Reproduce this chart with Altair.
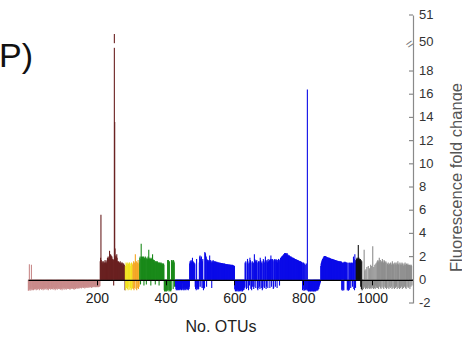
import altair as alt
import pandas as pd

# ---------------- data ----------------
group_names = ["pink", "maroon", "yellow", "orange", "green", "blue", "black", "gray"]
group_colors = ["#c98b8b", "#6a2121", "#f3e21e", "#f5a623", "#1a8a1a", "#0b0be8", "#111111", "#8e8e8e"]
group_start = [1, 210, 283, 305, 325, 429, 954, 973]

pink = [
    -0.95, -0.9, -0.8, 1.35, -0.85, -0.95, -0.7, -0.8, -0.9, 1.3,
    -0.8, -0.9, -0.6, -0.85, -0.7, -0.9, -0.75, -0.5, -0.8, -0.85,
    -0.7, -0.8, -0.6, -0.9, -0.75, -0.65, -0.8, -0.85, -0.5, -0.7,
    -0.8, -0.75, -0.9, -0.6, -0.7, -0.8, -0.45, -0.75, -0.85, -0.7,
    -0.6, -0.8, -0.7, -0.9, -0.75, -0.55, -0.8, -0.7, -0.85, -0.65,
    -0.75, -0.8, -0.5, -0.7, -0.85, -0.6, -0.8, -0.75, -0.9, -0.7,
    -0.65, -0.8, -0.7, -0.4, -0.75, -0.85, -0.7, -0.8, -0.6, -0.75,
    -0.8, -0.7, -0.85, -0.65, -0.75, -0.5, -0.8, -0.7, -0.9, -0.75,
    -0.6, -0.8, -0.7, -0.75, -0.85, -0.55, -0.7, -0.8, -0.65, -0.75,
    -0.8, -0.4, -0.7, -0.85, -0.75, -0.6, -0.8, -0.7, -0.9, -0.65,
    -0.75, -0.8, -0.6, -0.7, -0.85, -0.7, -0.5, -0.8, -0.75, -0.7,
    -0.85, -0.6, -0.75, -0.8, -0.7, -0.45, -0.8, -0.75, -0.65, -0.8,
    -0.7, -0.85, -0.6, -0.75, -0.8, -0.7, -0.55, -0.8, -0.7, -0.75,
    -0.65, -0.8, -0.7, -0.85, -0.6, -0.75, -0.7, -0.8, -0.5, -0.7,
    -0.75, -0.6, -0.7, -0.65, -0.8, -0.55, -0.7, -0.6, -0.75, -0.65,
    -0.6, -0.7, -0.5, -0.65, -0.75, -0.6, -0.7, -0.4, -0.65, -0.6,
    -0.7, -0.55, -0.65, -0.6, -0.75, -0.5, -0.6, -0.7, -0.55, -0.65,
    -0.6, -0.7, -0.5, -0.65, -0.55, -0.6, -0.7, -0.45, -0.6, -0.65,
    -0.55, -0.65, -0.6, -0.5, -0.7, -0.6, -0.55, -0.65, -0.6, -0.5,
    -0.6, -0.65, -0.55, -0.6, -0.5, -0.65, -0.6, -0.55, -0.6, -0.65,
    -0.55, -0.6, -0.5, -0.65, -0.6, -0.55, -0.6, -0.5, -0.55,
]

maroon = [
    1.6, 1.9, 5.6, 1.7, 1.5, 1.4, 1.6, 1.3, 1.5, 1.4,
    1.6, 1.3, 1.5, 1.4, 1.7, 1.5, 1.3, 1.6, 1.4, 1.5,
    1.7, 1.9, 1.8, 2.0, 1.8, 1.9, 1.7, 2.5, 2.1, 2.0,
    2.2, 2.0, 2.1, 1.9, 2.0, 1.7, 1.8, 1.6, 1.7, -0.5,
    1.8, 50.3, 13.6, 2.7, 1.9, 2.1, 1.8, 2.0, 2.2, 1.9,
    1.6, 1.5, 1.4, 1.6, 1.5, 1.3, 1.5, 1.4, 1.6, 1.4,
    1.3, 1.5, 1.4, 1.3, 1.5, 1.2, 1.4, 1.3, 1.4, 1.2,
    1.3, 1.2, -0.9,
]

yellow = [1.2, -0.9, 1.5, -0.7, 1.4, 1.3, -0.8, 1.5, -0.9, 1.4, -0.6,
          1.3, 1.5, -0.85, 1.4, -0.7, 1.2, -0.9, 1.5, -0.8, 1.3, -0.7]

orange = [1.4, -0.8, 1.6, -0.9, 1.5, -0.7, 1.4, 2.2, 1.5, -0.8,
          1.6, -0.9, 1.3, 1.5, -0.7, 1.7, -0.8, 1.4, -0.6, 1.5]

green = [
    1.9, 2.0, -0.4, 1.8, 3.1, 2.0, 1.9, 1.8, 2.0, 1.9,
    1.8, 2.0, -0.5, 1.9, 1.8, 1.9, 2.0, 1.7, 1.9, -0.4,
    1.8, 1.9, 1.7, 1.8, 2.0, 1.8, 2.6, 1.9, 1.8, 1.7,
    1.9, 1.8, -0.5, 1.7, 1.8, 1.9, 1.7, 2.2, 1.8, 1.6,
    1.7, 1.6, 1.7, 1.5, 1.6, -0.4, 1.6, 1.5, 1.6, 1.5,
    1.5, 1.6, 1.4, 1.5, 1.5, 1.4, -0.5, 1.5, 1.4, 1.5,
    1.4, 1.4, 1.5, 1.3, 1.4, 1.4, 1.3, 1.4, 1.3, 1.4,
    1.3, -0.9, -1.0, -0.9, -0.95, -1.0, -0.9, -0.85, -1.0, -0.9,
    -0.95, 1.7, 1.6, 1.7, -0.9, -1.0, 1.6, -0.9, -0.95, -0.9,
    -1.0, -0.9, 1.7, 1.6, 1.7, 1.5, 1.6, -0.8, 1.7, 1.6,
    1.5, -0.6, -0.5, -0.4,
]

blue = [
    -0.6, -0.8, -0.9, -0.7, -0.85, -0.9, -0.75, -0.8, -0.9, -0.7, -0.85, -0.8,
    -0.9, -0.7, -0.8, -0.85, -0.6, -0.9, -0.8, -0.75, -0.3, -0.85,
    -0.9, -0.7, -0.8, -0.9, -0.65, -0.8, -0.85, -0.7, -0.9, -0.8,
    -0.75, -0.6, -0.85, -0.8, -0.7, -0.9, -0.75, -0.8, -0.6,
    1.4, 1.6, 1.5, 1.6, 1.7, 1.5, 1.6, 1.4, 1.9, 1.5, 1.6, 1.5, 1.4, 1.5, 1.3, 1.4,
    -0.6, -0.8, -0.7, -0.9, 1.8, -0.7, -0.8, -0.6, -0.85, -0.7, -0.8, -0.6,
    1.5, 2.0, 2.1, 1.8, -0.6, 1.9, 2.0, 1.7, -0.7, 1.6, 1.8,
    -0.7, -0.9, -0.8, -0.6, -0.7,
    2.4, 2.3, 2.2, 1.9, 2.0, -0.6, 1.8, 1.7,
    1.6, 1.7, 1.5, 1.6, 1.7, 1.6, 2.1, 1.6, 1.5, 1.7, 1.6, 1.5, -0.7, 1.6, 1.5, 1.6, 1.7, 1.5, 1.6,
    1.6, 1.55, 1.55, 1.6, 1.55, 1.5, 1.55, 1.5, 1.55, 1.5,
    1.5, 1.5, 1.45, 1.5, 1.5, 1.45, 1.45, 1.5, 1.45, 1.45,
    1.4, 1.45, 1.4, 1.45, 1.4, 1.4, 1.4, 1.35, 1.4, 1.4,
    1.35, 1.4, 1.35, 1.35, 1.35, 1.3, 1.35, 1.35, 1.3, 1.35,
    1.3, 1.3, 1.3, 1.35, 1.3, 1.3, 1.25, 1.3, 1.3, 1.25,
    1.3, 1.25, 1.25, 1.3, 1.25, 1.25, 1.2, 1.25, 1.2, 1.2,
    -0.8, -0.9, -1.0, -0.9, -0.85, -0.95, -1.0, -0.9, -0.8, -0.95,
    -1.0, -0.9, -0.85, -1.0, -0.95, -0.9, -0.8, -0.95, -1.0, -0.9,
    -0.85, -0.9, -1.0, -0.95, -0.8, -0.9, -0.7, -0.85, -0.6, -0.7,
    1.5, 1.4, 1.6, -0.6, -0.8, -0.7, 1.5, 1.8, 1.6, -0.7,
    -0.9, 1.4, 1.5, -0.5, 1.9, 1.7, 1.6, -0.8, -0.7, -0.9,
    1.5, 1.6, -0.6, 1.4, 1.5, -0.8, -0.6, 2.2, 1.8, 1.7,
    1.6, -0.7, 1.5, 1.6, 1.7, 1.5, -0.8, -0.9, -0.7, 1.6,
    1.5, 1.6, -0.6, -0.8, 1.9, 1.7, 1.6, -0.7, 1.5, 1.4,
    -0.9, -0.8, 1.6, 1.8, 1.7, -0.6, -0.7, 1.5, 1.6, 2.0,
    1.7, -0.8, -0.6, 1.6, 1.7, 1.5, -0.7, 1.8, 1.6, 1.5,
    1.6, 1.7, -0.7, 1.8, 1.7, 2.1, 1.8, -0.6, 1.7, 1.6,
    1.8, 1.7, -0.8, -0.7, 1.6, 1.7, 1.8, 1.6, -0.6, 1.7,
    1.8, 1.6, 1.7, -0.7, 1.5, 1.7, 1.6, 1.8, 1.7, 1.6,
    -0.5, 1.7, 1.8, 1.9, 1.8, 1.9, 2.0, 1.9, 2.0, 2.1,
    2.0, 2.1, 2.2, 2.1, 2.2,
    2.3, 2.2, 2.3, 2.2, 2.3, 2.2, 2.2, 2.3, 2.1, 2.2, 2.1,
    2.1, 2.1, 2.0, 2.1, 2.0, 2.0, 2.0, 1.95, 2.0, 1.9,
    1.95, 1.9, 1.9, 1.85, 1.9, 1.85, 1.8, 1.85, 1.8, 1.8,
    1.75, 1.8, 1.75, 1.7, 1.75, 1.7, 1.7, 1.65, 1.7, 1.65,
    1.6, 1.65, 1.6, 1.6, 1.55, 1.6, 1.55, 1.5, 1.55, 1.5,
    1.5, -0.9, 1.4, -0.8, 1.5, -0.95, -0.9, 1.4, -0.9, 1.3, -0.85, -0.9, 1.4, -0.8, -0.9,
    16.4,
    -0.9, -0.95, -1.0, -0.9, -1.0, -0.95, -0.9, -1.0, -0.95, -1.0,
    -0.9, -0.95, -1.0, -0.9, -0.95, -1.0, -0.9, -1.0, -0.95, -0.9,
    -1.0, -0.95, -0.9, -1.0, -0.95, -0.9, -0.85, -0.95, -0.9, -0.8,
    -0.9, -0.7, -0.8, -0.6, -0.5, -0.4, -0.3, -0.2,
    1.2, 1.4, 1.5, 1.6, 1.7, 1.8, 1.8, 1.9, 1.9, 2.0, 2.0, 2.05, 2.0, 2.05, 2.0, 1.95,
    2.0, 1.95, 1.95, 1.9, 1.95, 1.9, 1.9, 1.9, 1.85, 1.9,
    1.85, 1.85, 1.8, 1.85, 1.8, 1.8, 1.8, 1.75, 1.8, 1.75,
    1.75, 1.75, 1.7, 1.75, 1.7, 1.7, 1.7, 1.65, 1.7, 1.65,
    1.65, 1.65, 1.6, 1.65, 1.6, 1.6, 1.6, 1.6, 1.55, 1.6,
    1.55, 1.55, 1.6, 1.55,
    1.55, -0.9, -0.8, 1.5, -0.95, -0.85, 1.5, -0.9, 1.55, 1.5,
    1.5, 1.55, 1.5, 1.45, 1.5, 1.5, 1.45, -0.9, -0.8, 1.5,
    -0.95, -0.9, 1.45, -0.85, 1.5, 1.45, 1.4, -0.7, 1.5, 1.45,
    1.4, 1.5, -0.6, 1.45, 1.4,
    2.0, -0.8, 1.8, -0.9, 2.2, 1.6, -0.7, 1.7,
]

black = [1.7, 1.8, 1.9, 1.8, 1.7, 1.9, 3.0, 1.8, 1.9, 1.7,
         1.8, 1.6, 1.8, -0.6, 1.7, -0.8, 1.6, -0.9, -0.7]

gray = [
    -0.7, -0.6, -0.8, -0.7, 2.6, -0.6, 0.8, -0.7, -0.8, 0.9,
    -0.6, -0.7, 1.1, -0.8, -0.6, -0.7, 1.2, -0.5, -0.7, -0.8,
    1.0, -0.6, -0.7, 1.3, -0.8, -0.6, 1.2, -0.7, -0.5, 2.9,
    -0.7, -0.8, 1.1, -0.6, -0.7, 1.3, -0.8, -0.5, 1.4, -0.7,
    -0.6, 1.5, 1.6, -0.7, 1.7, 1.6, -0.8, 1.5, 1.9, -0.6,
    1.6, 1.7, -0.7, -0.8, 1.5, 1.6, -0.6, 1.8, 1.6, -0.7,
    1.5, -0.8, 1.7, 1.6, -0.6, 1.5, -0.7, 1.6, 1.5, -0.8,
    -0.6, 1.3, 1.4, -0.7, 1.5, 1.3, -0.8, -0.6, 1.4, 1.3,
    -0.7, 1.5, 1.4, -0.6, 1.3, -0.8, 1.6, 1.4, -0.7, 1.3,
    1.4, -0.6, -0.8, 1.5, 1.3, -0.7, 1.4, 1.5, -0.6, 1.3,
    -0.8, 1.4, 1.6, -0.7, 1.3, 1.4, -0.6, -0.8, 1.5, 1.3,
    -0.7, 1.4, 1.3, -0.6, 1.5, -0.8, 1.4, 1.3, -0.7, 1.2,
    1.4, -0.6, 1.3, 1.5, -0.7, 1.3, -0.8, 1.4, 1.2, -0.6,
    1.3, 1.4, -0.7, 1.3, -0.6, 1.2, 1.3, -0.8, 1.3, 1.2,
    -0.6, 1.3, 1.2, -0.5,
]

values_by_group = [pink, maroon, yellow, orange, green, blue, black, gray]

# axis ticks / labels
x_ticks = [200, 400, 600, 800, 1000]
y_tick_labels = ["-2", "0", "2", "4", "6", "8", "10", "12", "14", "16", "18", "50", "51"]
y_tick_real = [-2, 0, 2, 4, 6, 8, 10, 12, 14, 16, 18, 50, 51]

# scale break: real values above BREAK_LOW are drawn compressed above it
BREAK_LOW, BREAK_HIGH = 18, 50
BREAK_BASE, BREAK_FACTOR = 20.5, 2.33


def to_display(v):
    return v if v <= BREAK_LOW else BREAK_BASE + (v - BREAK_HIGH) * BREAK_FACTOR


rows = []
for name, start, vals in zip(group_names, group_start, values_by_group):
    for i, v in enumerate(vals):
        rows.append({"otu": start + i, "value": v, "group": name})
df = pd.DataFrame(rows)

y_disp_ticks = [round(to_display(v), 3) for v in y_tick_real]

Y_DOMAIN = [-2, round(to_display(51), 3)]
X_DOMAIN = [0, 1119]

xscale = alt.Scale(domain=X_DOMAIN, nice=False, zero=False)
yscale = alt.Scale(domain=Y_DOMAIN, nice=False, zero=False)

bars = alt.Chart(df).transform_calculate(
    disp=f"datum.value > {BREAK_LOW} ? {BREAK_BASE} + (datum.value - {BREAK_HIGH}) * {BREAK_FACTOR} : datum.value"
).mark_rule(strokeWidth=1.1).encode(
    x=alt.X("otu:Q", scale=xscale, axis=alt.Axis(
        orient="bottom", offset=-23.2, values=x_ticks, format="d", grid=False,
        domainColor="#000000", domainWidth=1.2, tickColor="#000000", tickSize=5,
        labelFontSize=14, labelPadding=7, labelColor="#222222", labelFlush=False,
        title="No. OTUs", titleFontSize=16, titleFontWeight="normal",
        titleColor="#222222", titlePadding=13, zindex=1)),
    y=alt.Y("disp:Q", scale=yscale, axis=alt.Axis(
        orient="right", values=y_disp_ticks, labels=False, grid=False,
        domainColor="#8a8a8a", domainWidth=1.2, tickSize=0,
        title="Fluorescence fold change", titleFontSize=16.5, titleFontWeight="normal",
        titleColor="#555555", titleAngle=270, titleAlign="center",
        titleBaseline="alphabetic", titleX=48, titleY=162, zindex=1)),
    y2=alt.datum(0),
    color=alt.Color("group:N", scale=alt.Scale(domain=group_names, range=group_colors), legend=None),
)

# white gap in the broken peak bar
gap_df = pd.DataFrame({"otu": [246], "otu2": [257], "disp": [20.0], "disp2": [20.4]})
gap = alt.Chart(gap_df).mark_rect(color="white").encode(
    x=alt.X("otu:Q", scale=xscale), x2="otu2:Q",
    y=alt.Y("disp:Q", scale=yscale), y2="disp2:Q",
)

# inward ticks of the right axis (not at the break)
tick_df = pd.DataFrame({"disp": [d for d, l in zip(y_disp_ticks, y_tick_labels) if l != "50"]})
ticks = alt.Chart(tick_df).mark_rule(color="#8a8a8a", strokeWidth=1.2).encode(
    y=alt.Y("disp:Q", scale=yscale),
    x=alt.value(381), x2=alt.value(385),
)

# right-axis tick labels
lab_df = pd.DataFrame({"disp": y_disp_ticks, "label": y_tick_labels})
labels = alt.Chart(lab_df).mark_text(
    fontSize=13, align="left", baseline="middle", color="#333333"
).encode(
    y=alt.Y("disp:Q", scale=yscale), x=alt.value(391), text="label:N",
)

# axis break symbol
brk_df = pd.DataFrame({"disp": [20.3], "sym": ["="]})
brk = alt.Chart(brk_df).mark_text(fontSize=13, angle=325, color="#777777").encode(
    y=alt.Y("disp:Q", scale=yscale), x=alt.value(382), text="sym:N",
)

panel_df = pd.DataFrame({"label": ["P)"]})
panel = alt.Chart(panel_df).mark_text(
    fontSize=34, align="left", baseline="alphabetic", color="#111111"
).encode(x=alt.value(-29), y=alt.value(51.7), text="label:N")

chart = alt.layer(bars, gap, ticks, labels, brk, panel).properties(
    width=385, height=288,
    autosize=alt.AutoSizeParams(type="none"),
    padding={"left": 28, "top": 15, "right": 49, "bottom": 37},
).configure(font="Liberation Sans").configure_view(strokeWidth=0)

chart.save("out.html", embed_options={"renderer": "svg", "actions": False})
